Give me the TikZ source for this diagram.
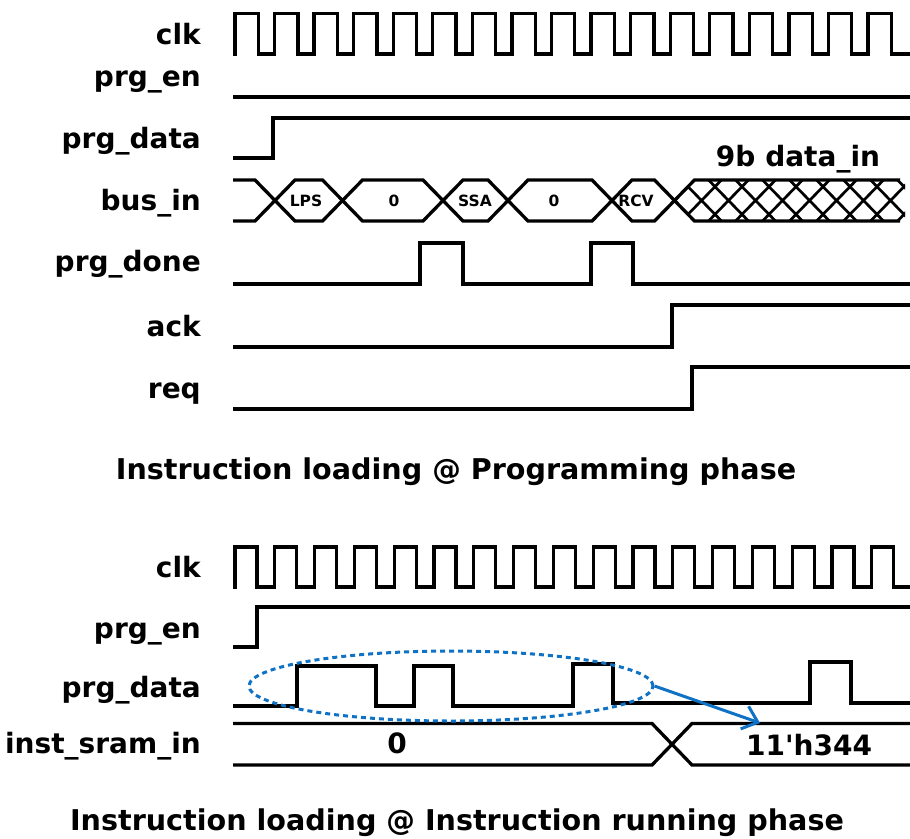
\documentclass[tikz,border=0pt]{standalone}
\usepackage{fontspec}
\setmainfont{DejaVu Sans}
\usetikzlibrary{shapes.geometric,arrows.meta}
\definecolor{markblue}{RGB}{16,114,196}

\begin{document}
\begin{tikzpicture}[x=1pt,y=-1pt,
  wave/.style={line width=3.3pt},
  hatch/.style={line width=2.7pt},
  sig/.style={font=\fontsize{28}{32}\selectfont\bfseries,inner sep=0pt,anchor=base east},
  val/.style={font=\fontsize{28}{32}\selectfont\bfseries,inner sep=0pt,anchor=base},
  ttl/.style={font=\fontsize{28.6}{32}\selectfont\bfseries,inner sep=0pt,anchor=base},
  tag/.style={font=\fontsize{15.5}{17}\selectfont\bfseries,inner sep=0pt,anchor=base}]
\useasboundingbox (0,0) rectangle (910,838);

% programming phase
\node[sig] (clkA) at (201,44) {clk};
\node[sig] (enA) at (201,86) {prg\_en};
\node[sig] (dataA) at (201,148) {prg\_data};
\node[sig] (busA) at (201,210.5) {bus\_in};
\node[sig] (doneA) at (201,271.5) {prg\_done};
\node[sig] (ackA) at (201,336) {ack};
\node[sig] (reqA) at (201,398) {req};

\draw[wave] (233,54) foreach \k in {0,...,16} {
  -- ({235+39.56*\k},54) -- ({235+39.56*\k},13.5)
  -- ({258.3+39.56*\k},13.5) -- ({258.3+39.56*\k},54) } -- (910,54);
\draw[wave] (233,97)--(910,97);
\draw[wave] (233,158)--(273,158)--(273,118)--(910,118);

% bus_in
\draw[wave] (233,180)--(255,180)--(295,221)--(322.5,221)--(362.5,180)--(423,180)
  --(463,221)--(488,221)--(528,180)--(592,180)--(632,221)--(654.5,221)--(694.5,180)--(900,180);
\draw[wave] (233,221)--(255,221)--(295,180)--(322.5,180)--(362.5,221)--(423,221)
  --(463,180)--(488,180)--(528,221)--(592,221)--(632,180)--(654.5,180)--(694.5,221)--(900,221);
\begin{scope}
\clip (674.5,200.5)--(694.5,180)--(905,180)--(905,221)--(694.5,221)--cycle;
\foreach \k in {1,...,9}
  \draw[hatch] ({654.5+27*\k},180)--({694.5+27*\k},221)
    ({654.5+27*\k},221)--({694.5+27*\k},180);
\end{scope}
\node[tag] (lps) at (306,206.5) {LPS};
\node[tag] (zeroA) at (394,206.5) {0};
\node[tag] (ssa) at (475,206.5) {SSA};
\node[tag] (zeroB) at (554,206.5) {0};
\node[tag] (rcv) at (636,206.5) {RCV};
\node[val] (din) at (798,166.5) {9b data\_in};

\draw[wave] (233,284)--(420,284)--(420,243)--(463,243)--(463,284)
  --(591,284)--(591,243)--(633,243)--(633,284)--(910,284);
\draw[wave] (233,347)--(672,347)--(672,305)--(910,305);
\draw[wave] (233,409)--(692,409)--(692,367)--(910,367);

\node[ttl] (titleA) at (456,479) {Instruction loading @ Programming phase};

% instruction running phase
\node[sig] (clkB) at (201,577) {clk};
\node[sig] (enB) at (201,638) {prg\_en};
\node[sig] (dataB) at (201,697.5) {prg\_data};
\node[sig] (sramB) at (201,753) {inst\_sram\_in};

\draw[wave] (233,587) foreach \k in {0,...,16} {
  -- ({235+39.8*\k},587) -- ({235+39.8*\k},547)
  -- ({257+39.8*\k},547) -- ({257+39.8*\k},587) } -- (910,587);
\draw[wave] (233,647)--(257,647)--(257,607)--(910,607);
\draw[wave] (233,706)--(297,706)--(297,666)--(376,666)--(376,706)--(414,706)--(414,666)
  --(453,666)--(453,706)--(573,706)--(573,664)--(613,664)--(613,703)--(810,703)
  --(810,662)--(851,662)--(851,703)--(910,703);
\draw[wave] (233,723.5)--(652,723.5)--(692,765)--(910,765);
\draw[wave] (233,765)--(652,765)--(692,723.5)--(910,723.5);
\node[val] (zeroC) at (397,753) {0};
\node[val] (hexC) at (809,755) {11\textquotesingle h344};

\node[ellipse,draw=markblue,line width=3pt,dash pattern=on 5pt off 4pt,
  minimum width=404pt,minimum height=70pt,inner sep=0pt] (grp) at (451,686) {};
\coordinate (tip) at (760,723);
\draw[markblue,line width=3pt,-{Straight Barb[length=14pt,width=24pt]}] (grp.east)--(tip);

\node[ttl] (titleB) at (457,830) {Instruction loading @ Instruction running phase};
\end{tikzpicture}
\end{document}
